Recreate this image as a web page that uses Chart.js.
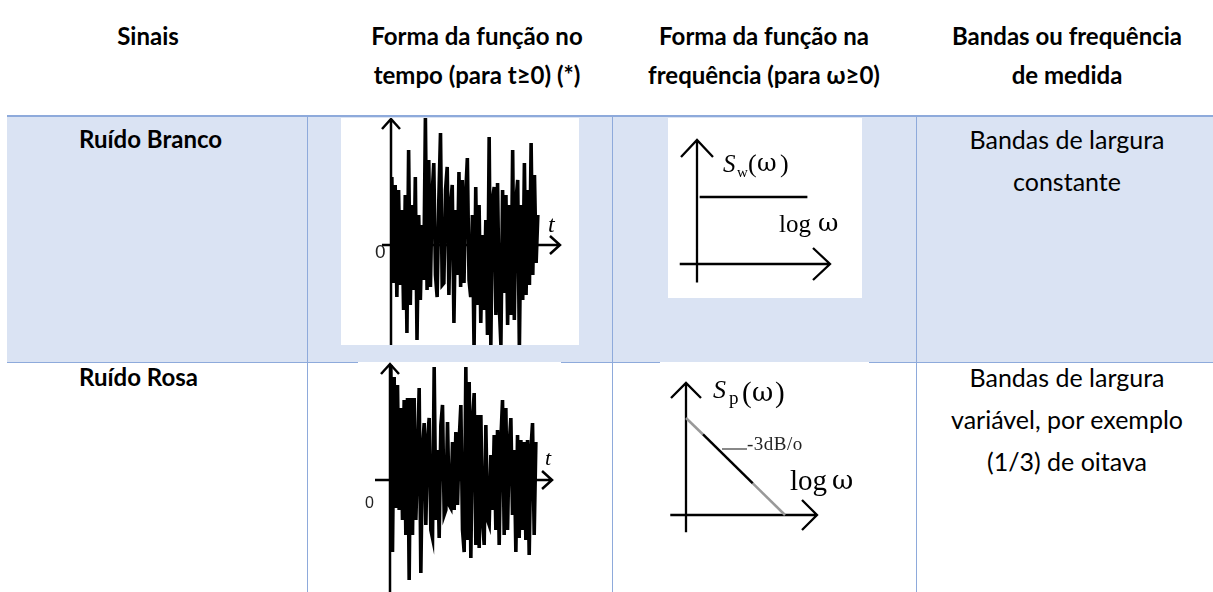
<!DOCTYPE html>
<html>
<head>
<meta charset="utf-8">
<script src="https://cdn.jsdelivr.net/npm/chart.js@4.4.0/dist/chart.umd.min.js"></script>
<style>
  body { margin: 0; width: 1213px; height: 592px; overflow: hidden; position: relative; background: #fff; font-family: Lato, "Open Sans", sans-serif; color: #000; }
  .fill { position: absolute; }
  .t { position: absolute; white-space: nowrap; line-height: 1.2; }
  .c { transform: translateX(-50%); }
  canvas { position: absolute; background: #fff; }
</style>
</head>
<body>
<script>
// table text
const headers = [
  ['Sinais'],
  ['Forma da função no', 'tempo (para t≥0) (*)'],
  ['Forma da função na', 'frequência (para ω≥0)'],
  ['Bandas ou frequência', 'de medida']
];
const signals = ['Ruído Branco', 'Ruído Rosa'];
const bands = [
  ['Bandas de largura', 'constante'],
  ['Bandas de largura', 'variável, por exemplo', '(1/3) de oitava']
];

// time signals (arbitrary amplitude units)
const noiseWhite = [68,-38,60,-52,55,-40,35,-65,50,-88,
  95,-60,40,-45,68,-95,30,-55,20,-35,
  127,-45,85,-42,50,82,-30,-52,45,112,
  -40,-38,55,78,-50,40,60,-78,35,-30,
  73,-42,65,-38,50,87,-35,-52,30,-105,
  58,-60,40,-78,10,-65,25,-90,108,-100,
  45,58,-70,62,-60,-100,55,-48,50,-80,
  40,-70,95,-75,45,65,-105,40,-55,82,
  -50,55,-40,102,-30,70,-18,30];
const noisePink = [115,-72,103,-28,95,-30,72,-40,80,-55,
  82,-100,82,-55,82,-40,20,92,-93,30,
  57,-45,40,62,-50,-58,113,-40,30,-58,
  55,75,-35,-30,58,-25,-28,38,-30,48,
  -25,40,75,-50,-72,113,-60,98,-78,60,
  87,-65,65,-68,65,-40,-65,55,-40,-45,
  25,-30,45,-50,50,-65,40,80,-55,72,
  -50,35,62,-35,30,-72,45,-58,40,-50,
  38,-60,40,-75,30,57,-55,38];

// spectra (log ω on x, level on y)
const whiteLogW = [0.02, 0.83];
const whiteLevel = [0.54, 0.54];
const pinkLogW = [0, 0.13, 0.51, 0.756];
const pinkLevel = [0.735, 0.61, 0.24, 0];

// ---- table frame ----
const colCenters = [148, 477, 764, 1067];
const signalLeft = 79;
const headBase = [46, 85];
const rowBase = [149, 387];
const lineGap = 42;
const blue = '#8eaadb';

function rect(l, t, w, h, bg) {
  const d = document.createElement('div');
  d.className = 'fill';
  Object.assign(d.style, { left: l + 'px', top: t + 'px', width: w + 'px', height: h + 'px', background: bg });
  document.body.appendChild(d);
}
function text(str, x, base, size, bold, centered) {
  const d = document.createElement('div');
  d.className = centered ? 't c' : 't';
  d.textContent = str;
  d.style.fontSize = size + 'px';
  d.style.fontWeight = bold ? '700' : '400';
  d.style.left = x + 'px';
  d.style.top = (base - 0.987 * size) + 'px';
  document.body.appendChild(d);
}

rect(7, 117, 1206, 245, '#dae3f3');
rect(7, 115, 1206, 2, blue);
rect(7, 362, 1206, 1, blue);
[307, 612, 916].forEach(x => rect(x, 117, 1, 475, blue));

headers.forEach((lines, c) => lines.forEach((s, i) => text(s, colCenters[c], headBase[i], 24, true, true)));
signals.forEach((s, r) => text(s, signalLeft, rowBase[r], 24, true, false));
bands.forEach((lines, r) => lines.forEach((s, i) => text(s, colCenters[3], rowBase[r] + i * lineGap, 25, false, true)));

// ---- small plots ----
function deco(d) {
  return {
    id: 'deco',
    beforeDatasetsDraw(chart) {
      const { ctx, scales: { x, y } } = chart;
      const ox = x.getPixelForValue(0), oy = y.getPixelForValue(0);
      const x1 = x.getPixelForValue(d.xAxis[1]), y1 = y.getPixelForValue(d.yAxis[1]);
      const [al, aw] = d.arrow;
      ctx.save();
      ctx.strokeStyle = '#000';
      ctx.lineWidth = d.axisWidth;
      ctx.beginPath();
      ctx.moveTo(x.getPixelForValue(d.xAxis[0]), oy); ctx.lineTo(x1, oy);
      ctx.moveTo(ox, y.getPixelForValue(d.yAxis[0])); ctx.lineTo(ox, y1);
      ctx.moveTo(x1 - al, oy - aw); ctx.lineTo(x1, oy); ctx.lineTo(x1 - al, oy + aw);
      ctx.moveTo(ox - aw, y1 + al); ctx.lineTo(ox, y1); ctx.lineTo(ox + aw, y1 + al);
      ctx.stroke();
      (d.leaders || []).forEach(l => {
        ctx.strokeStyle = l.color; ctx.lineWidth = l.width;
        ctx.beginPath();
        ctx.moveTo(ox + l.from[0], oy + l.from[1]);
        ctx.lineTo(ox + l.to[0], oy + l.to[1]);
        ctx.stroke();
      });
      ctx.restore();
    },
    afterDatasetsDraw(chart) {
      const { ctx, scales: { x, y } } = chart;
      const ox = x.getPixelForValue(0), oy = y.getPixelForValue(0);
      ctx.save();
      ctx.textBaseline = 'alphabetic';
      ctx.textAlign = 'left';
      d.labels.forEach(l => {
        ctx.font = l.font;
        ctx.fillStyle = l.color || '#000';
        ctx.letterSpacing = (l.ls || 0) + 'px';
        ctx.fillText(l.text, ox + l.dx, oy + l.dy);
      });
      ctx.restore();
    }
  };
}

function panel(box, origin, sx, sy, datasets, d) {
  const cv = document.createElement('canvas');
  cv.width = box.w; cv.height = box.h;
  cv.style.left = box.l + 'px'; cv.style.top = box.t + 'px';
  document.body.appendChild(cv);
  return new Chart(cv.getContext('2d'), {
    type: 'line',
    data: { datasets },
    options: {
      responsive: false,
      animation: false,
      events: [],
      layout: { padding: 0 },
      plugins: { legend: { display: false }, tooltip: { enabled: false } },
      elements: { point: { radius: 0 }, line: { tension: 0 } },
      scales: {
        x: { type: 'linear', display: false, min: (box.l - origin.x) / sx, max: (box.l + box.w - origin.x) / sx },
        y: { type: 'linear', display: false, min: (origin.y - box.t - box.h) / sy, max: (origin.y - box.t) / sy }
      }
    },
    plugins: [deco(d)]
  });
}

const serif = '"Liberation Serif", "Times New Roman", serif';
const greek = '"DejaVu Serif", serif';
const sans = '"Liberation Sans", Arial, sans-serif';

// white noise, time domain
panel({ l: 341, t: 118, w: 238, h: 227 }, { x: 391, y: 245 }, 1.678, 1,
  [{ data: noiseWhite.map((v, i) => ({ x: i + 0.5, y: v })), borderColor: '#000', borderWidth: 3.6 }],
  { xAxis: [-5.4, 100.7], yAxis: [-101, 126], arrow: [10, 9], axisWidth: 2.5,
    labels: [
      { text: 't', dx: 157, dy: -13, font: 'italic 24px ' + serif },
      { text: '0', dx: -16, dy: 13, font: '19px ' + sans, color: '#222' }
    ] });

// pink noise, time domain
panel({ l: 358, t: 362, w: 203, h: 230 }, { x: 390, y: 480 }, 1.667, 1,
  [{ data: noisePink.map((v, i) => ({ x: i + 0.5, y: v })), borderColor: '#000', borderWidth: 3.6 }],
  { xAxis: [-9, 97.2], yAxis: [-113, 116], arrow: [10, 9], axisWidth: 2.5,
    labels: [
      { text: 't', dx: 155, dy: -15, font: 'italic 22px ' + serif },
      { text: '0', dx: -25, dy: 28, font: '16px ' + sans, color: '#222' }
    ] });

// white noise spectrum
panel({ l: 668, t: 118, w: 194, h: 180 }, { x: 697, y: 264 }, 133, 124,
  [{ data: whiteLogW.map((v, i) => ({ x: v, y: whiteLevel[i] })), borderColor: '#000', borderWidth: 2.5 }],
  { xAxis: [-0.13, 1.0], yAxis: [-0.15, 1.0], arrow: [17, 16], axisWidth: 2.3,
    labels: [
      { text: 'S', dx: 26, dy: -92, font: 'italic 25px ' + serif },
      { text: 'w', dx: 40, dy: -87, font: '15px ' + serif },
      { text: '(', dx: 51, dy: -92, font: '26px ' + serif },
      { text: 'ω', dx: 60, dy: -93, font: '24px ' + greek },
      { text: ')', dx: 83, dy: -92, font: '26px ' + serif },
      { text: 'log', dx: 82, dy: -32, font: '25px ' + serif },
      { text: 'ω', dx: 121, dy: -33, font: '25px ' + greek }
    ] });

// pink noise spectrum
const slopeColors = ['#999', '#000', '#999'];
panel({ l: 660, t: 362, w: 209, h: 230 }, { x: 686, y: 515 }, 131, 132,
  [{ data: pinkLogW.map((v, i) => ({ x: v, y: pinkLevel[i] })), borderColor: '#000', borderWidth: 2.5,
     segment: { borderColor: c => slopeColors[c.p0DataIndex] } }],
  { xAxis: [-0.12, 1.0], yAxis: [-0.13, 1.0], arrow: [15, 15], axisWidth: 2.3,
    leaders: [{ from: [36, -66], to: [61, -66], color: '#888', width: 2 }],
    labels: [
      { text: 'S', dx: 27, dy: -117, font: 'italic 26px ' + serif },
      { text: 'p', dx: 43, dy: -111, font: '19px ' + serif },
      { text: '(', dx: 56, dy: -113, font: '29px ' + serif },
      { text: 'ω', dx: 66, dy: -114, font: '26px ' + greek },
      { text: ')', dx: 89, dy: -113, font: '29px ' + serif },
      { text: '-3dB/o', dx: 61, dy: -65, font: '19px ' + serif, color: '#222', ls: 0.5 },
      { text: 'log', dx: 104, dy: -25, font: '29px ' + serif },
      { text: 'ω', dx: 146, dy: -26, font: '26px ' + greek }
    ] });
</script>
</body>
</html>
